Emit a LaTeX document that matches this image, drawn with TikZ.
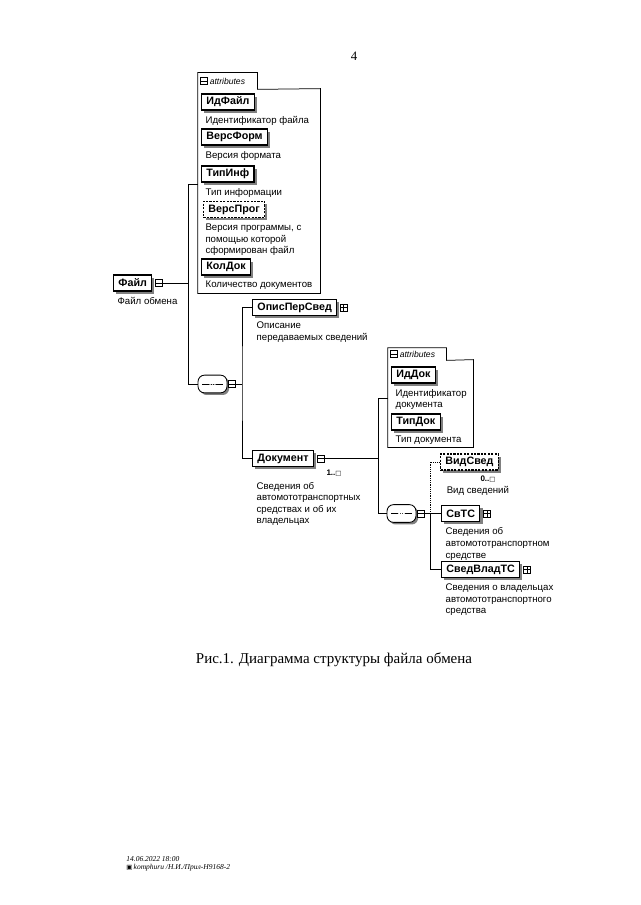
\documentclass[tikz,border=0pt]{standalone}
\usepackage{fontspec}
\setmainfont{Liberation Serif}
\newfontfamily\xsdfont{Liberation Sans}
\newfontfamily\symfont{DejaVu Sans}
\usetikzlibrary{positioning,fit,shadows}

\tikzset{
  elem/.style={draw, line width=1.1pt, fill=white,
    font=\xsdfont\bfseries\fontsize{10}{11}\selectfont,
    inner xsep=4.5pt, inner ysep=0pt, minimum height=15pt,
    drop shadow={shadow xshift=2.5pt, shadow yshift=-2.5pt, fill=black!50, opacity=1}},
  optelem/.style={elem, dash pattern=on 2pt off 1.2pt},
  desc/.style={font=\xsdfont\fontsize{9}{10.8}\selectfont, align=left, inner sep=0pt},
  mult/.style={font=\xsdfont\bfseries\fontsize{7.5}{8}\selectfont, inner sep=0pt},
  minusic/.style={draw, fill=white, line width=0.5pt, minimum size=6.5pt, inner sep=0pt,
    path picture={\draw (path picture bounding box.west) -- (path picture bounding box.east);}},
  plusic/.style={draw, fill=white, line width=0.5pt, minimum size=6.5pt, inner sep=0pt,
    path picture={\draw (path picture bounding box.west) -- (path picture bounding box.east);
      \draw (path picture bounding box.north) -- (path picture bounding box.south);}},
  seq/.style={draw, fill=white, line width=0.8pt, rectangle, rounded corners=6pt,
    minimum width=27pt, minimum height=16.5pt, inner sep=0pt,
    drop shadow={shadow xshift=2pt, shadow yshift=-2pt, fill=black!50, opacity=1},
    path picture={
      \draw ([xshift=4pt]path picture bounding box.west) -- ([xshift=-4pt]path picture bounding box.east);
      \foreach \d in {-2.2pt,0pt,2.2pt}
        \fill ([xshift=\d]path picture bounding box.center) circle (0.9pt);}},
  tabtxt/.style={font=\xsdfont\itshape\fontsize{8}{9}\selectfont, inner sep=0pt},
  frame/.style={line width=0.7pt}
}

\begin{document}
\begin{tikzpicture}[x=0.0328cm, y=-0.0328cm, line width=0.7pt]
\fill[white] (0,0) rectangle (640,905);
\useasboundingbox (0,0) rectangle (640,905);

\node[font=\fontsize{12}{14}\selectfont] (pg) at (354,56) {4};

% root
\node[elem, anchor=west] (fil) at (113,283) {Файл};
\node[minusic, right=2.5pt of fil] (film) {};
\node[desc, below right=5pt and 4pt of fil.south west] (fild) {Файл обмена};

% attributes of the file
\node[fit={(198,89) (320,293)}, inner sep=0pt] (att1) {};
\node[fit={(198,73) (257,89)}, inner sep=0pt] (tab1) {};
\node[minusic, right=2pt of tab1.west] (tab1m) {};
\node[tabtxt, right=2pt of tab1m] {attributes};
\draw[frame] (att1.north east) -- (tab1.south east) -- (tab1.north east) -- (tab1.north west)
  -- (att1.south west) -- (att1.south east) -- cycle;

\node[elem, anchor=west] (idf) at (201,102) {ИдФайл};
\node[desc, below right=5pt and 4pt of idf.south west] {Идентификатор файла};
\node[elem, anchor=west] (vform) at (201,137) {ВерсФорм};
\node[desc, below right=5pt and 4pt of vform.south west] {Версия формата};
\node[elem, anchor=west] (tinf) at (201,174) {ТипИнф};
\node[desc, below right=5pt and 4pt of tinf.south west] {Тип информации};
\node[optelem, anchor=west] (vprog) at (203,209.5) {ВерсПрог};
\node[desc, below right=5pt and 2pt of vprog.south west]
  {Версия программы, с\\помощью которой\\сформирован файл};
\node[elem, anchor=west] (kdoc) at (201,267) {КолДок};
\node[desc, below right=5pt and 4pt of kdoc.south west] {Количество документов};

% sequence of the file
\node[seq] (seq1) at (212.5,384) {};
\node[minusic, right=1pt of seq1] (seq1m) {};

\node[elem, anchor=west] (ops) at (252,307.5) {ОписПерСвед};
\node[plusic, right=2.5pt of ops] (opsp) {};
\node[desc, below right=5pt and 4pt of ops.south west] {Описание\\передаваемых сведений};

\node[elem, anchor=west] (doc) at (252,458.5) {Документ};
\node[minusic, right=2.5pt of doc] (docm) {};
\node[mult] (docn) at (334,473.5) {1..{\symfont\fontsize{6}{7}\selectfont □}};
\node[desc, below right=13.5pt and 4pt of doc.south west]
  {Сведения об\\автомототранспортных\\средствах и об их\\владельцах};

% attributes of the document
\node[fit={(388,360) (473,447)}, inner sep=0pt] (att2) {};
\node[fit={(388,348) (446,360)}, inner sep=0pt] (tab2) {};
\node[minusic, right=2pt of tab2.west] (tab2m) {};
\node[tabtxt, right=2pt of tab2m] {attributes};
\draw[frame] (att2.north east) -- (tab2.south east) -- (tab2.north east) -- (tab2.north west)
  -- (att2.south west) -- (att2.south east) -- cycle;

\node[elem, anchor=west] (iddoc) at (391,375) {ИдДок};
\node[desc, below right=5pt and 4pt of iddoc.south west] {Идентификатор\\документа};
\node[elem, anchor=west] (tdoc) at (391,422) {ТипДок};
\node[desc, below right=5pt and 4pt of tdoc.south west] {Тип документа};

% sequence of the document
\node[seq] (seq2) at (401.5,513.5) {};
\node[minusic, right=1pt of seq2] (seq2m) {};

\node[optelem, anchor=west] (vsv) at (440,462) {ВидСвед};
\node[mult] (vsvn) at (488,479.5) {0..{\symfont\fontsize{6}{7}\selectfont □}};
\node[desc, below right=14.5pt and 6pt of vsv.south west] {Вид сведений};

\node[elem, anchor=west] (svts) at (441,513.5) {СвТС};
\node[plusic, right=2.5pt of svts] (svtsp) {};
\node[desc, below right=5pt and 4pt of svts.south west]
  {Сведения об\\автомототранспортном\\средстве};

\node[elem, anchor=west] (svvl) at (441,569.5) {СведВладТС};
\node[plusic, right=2.5pt of svvl] (svvlp) {};
\node[desc, below right=5pt and 4pt of svvl.south west]
  {Сведения о владельцах\\автомототранспортного\\средства};

% connectors
\coordinate (b1t) at (188,184);
\coordinate (b1b) at (188,384);
\draw (film.east) -- (film.east -| b1t);
\draw (att1.west |- b1t) -- (b1t) -- (b1b) -- (seq1.west);

\coordinate (b2) at (242,384);
\draw (seq1m.east) -- (b2);
\draw (ops.west) -| (b2) |- (doc.west);

\coordinate (b3t) at (378,398);
\draw (docm.east) -- (docm.east -| b3t);
\draw (att2.west |- b3t) -- (b3t) |- (seq2.west);

\coordinate (b4) at (430,513.5);
\draw (seq2m.east) -- (b4) -- (svts.west);
\draw (b4) |- (svvl.west);
\draw[densely dotted] (b4) |- (vsv.west);

% caption and footer
\node[font=\fontsize{14}{16}\selectfont] (cap) at (334,660)
  {Рис.1. Диаграмма структуры файла обмена};
\node[font=\itshape\fontsize{7}{8}\selectfont, anchor=west, inner sep=0pt] (ft1) at (126,859)
  {14.06.2022 18:00};
\node[font=\itshape\fontsize{7}{8}\selectfont, below=1.5pt of ft1.south west, anchor=north west, inner sep=0pt] (ft2)
  {{\symfont\fontsize{6}{7}\selectfont ▣}\,komphuru /Н.И./Прил-Н9168-2};
\end{tikzpicture}
\end{document}
